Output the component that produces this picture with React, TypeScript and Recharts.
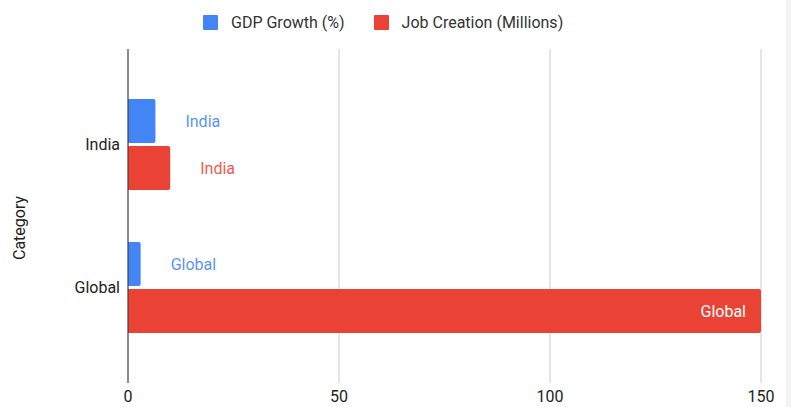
import { Bar, BarChart, CartesianGrid, LabelList, XAxis, YAxis } from "recharts"

const CATEGORIES = ["India", "Global"]
const GDP_GROWTH = [6.5, 3]
const JOB_CREATION = [10, 150]
const X_TICKS = [0, 50, 100, 150]

const BLUE = "#4285f4"
const RED = "#ea4335"
const FONT = "Roboto, Arial, sans-serif"
const FS = 16

const data = CATEGORIES.map((category, i) => ({
  category,
  gdp: GDP_GROWTH[i],
  jobs: JOB_CREATION[i],
}))

// annotation: sits past the bar end in a lighter tone, or inside in white when
// the bar is long enough to hold it
function barLabel(color: string) {
  return (props: any) => {
    const { x, y, width, height, value } = props
    const inside = width > 120
    return (
      <text
        x={inside ? x + width - 15 : x + width + 30}
        y={y + height / 2}
        dy="0.35em"
        textAnchor={inside ? "end" : "start"}
        fill={inside ? "#fff" : color}
        fontSize={FS}
        fontFamily={FONT}
      >
        {value}
      </text>
    )
  }
}

function Legend() {
  const items = [
    { name: "GDP Growth (%)", color: BLUE },
    { name: "Job Creation (Millions)", color: RED },
  ]
  return (
    <div
      style={{
        position: "absolute",
        left: 203,
        top: 13,
        display: "flex",
        alignItems: "center",
        fontFamily: FONT,
        fontSize: FS,
        color: "#333",
      }}
    >
      {items.map((it) => (
        <div key={it.name} style={{ display: "flex", alignItems: "center", marginRight: 29 }}>
          <span style={{ width: 15, height: 15, background: it.color, borderRadius: 1, marginRight: 13 }} />
          <span>{it.name}</span>
        </div>
      ))}
    </div>
  )
}

export default function App() {
  return (
    <div style={{ position: "absolute", left: 0, top: 0, width: 791, height: 407, background: "#fff", overflow: "hidden" }}>
      <BarChart
        width={791}
        height={407}
        data={data}
        layout="vertical"
        margin={{ top: 49, right: 30, bottom: 0, left: 0 }}
        barCategoryGap={26}
        barGap={3}
      >
        <CartesianGrid horizontal={false} stroke="#cccccc" />
        <XAxis
          type="number"
          domain={[0, 150]}
          ticks={X_TICKS}
          axisLine={false}
          tickLine={false}
          tickSize={0}
          tickMargin={8}
          height={24}
          tick={{ fill: "#222", fontSize: FS, fontFamily: FONT }}
        />
        <YAxis
          type="category"
          dataKey="category"
          width={128}
          padding={{ top: 24, bottom: 24 }}
          axisLine={{ stroke: "#333", strokeWidth: 1 }}
          tickLine={false}
          tickSize={0}
          tickMargin={8}
          tick={{ fill: "#222", fontSize: FS, fontFamily: FONT }}
          label={{
            content: (p: any) => {
              const vb = p.viewBox
              const cx = vb.x + 19
              const cy = vb.y + vb.height / 2 + 12
              return (
                <text
                  x={cx}
                  y={cy}
                  transform={`rotate(-90, ${cx}, ${cy})`}
                  textAnchor="middle"
                  dy="0.35em"
                  fill="#222"
                  fontSize={FS}
                  fontFamily={FONT}
                >
                  Category
                </text>
              )
            },
          }}
        />
        <Bar dataKey="gdp" name="GDP Growth (%)" fill={BLUE} radius={[0, 2, 2, 0]} isAnimationActive={false}>
          <LabelList dataKey="category" content={barLabel("#5a95f5")} />
        </Bar>
        <Bar dataKey="jobs" name="Job Creation (Millions)" fill={RED} radius={[0, 2, 2, 0]} isAnimationActive={false}>
          <LabelList dataKey="category" content={barLabel("#ee5b50")} />
        </Bar>
      </BarChart>
      <Legend />
      <div style={{ position: "absolute", left: 786, top: 0, width: 5, height: 407, background: "#f3f3f3" }} />
    </div>
  )
}
